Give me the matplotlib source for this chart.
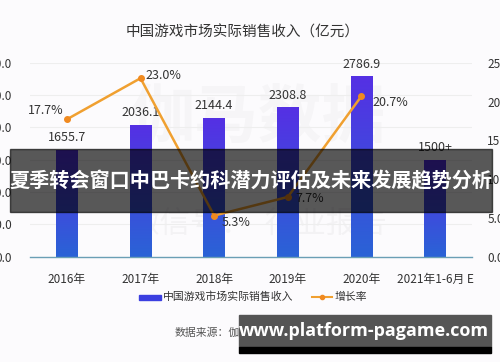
import numpy as np
import matplotlib
matplotlib.use("Agg")
import matplotlib.pyplot as plt
from matplotlib.patches import Rectangle
from matplotlib.colors import LinearSegmentedColormap
from matplotlib.lines import Line2D

plt.rcParams['font.family'] = ['Noto Sans CJK SC', 'DejaVu Sans']

years = ["2016年", "2017年", "2018年", "2019年", "2020年", "2021年1-6月 E"]
revenue = [1655.7, 2036.1, 2144.4, 2308.8, 2786.9, 1500]
revenue_labels = ["1655.7", "2036.1", "2144.4", "2308.8", "2786.9", "1500+"]
growth = [17.7, 23.0, 5.3, 7.7, 20.7]
growth_labels = ["17.7%", "23.0%", "5.3%", "7.7%", "20.7%"]
left_ticks = [0, 500, 1000, 1500, 2000, 2500, 3000]
right_ticks = [0, 5, 10, 15, 20, 25]

W, H = 500, 362
fig = plt.figure(figsize=(5, 3.62), dpi=100)
fig.patch.set_facecolor('#fcfbfd')

ax = fig.add_axes([30 / W, 1 - 256.7 / H, (472 - 30) / W, (256.7 - 62.7) / H])
ax.set_facecolor('none')
x = np.arange(len(years))

# faint background watermark
ax.text(2.6, 2150, "伽马数据", fontsize=46, color='#000000', alpha=0.025,
        ha='center', va='center', fontweight='bold', zorder=0)
ax.text(2.6, 500, "微信号：  行业报告", fontsize=22, color='#000000', alpha=0.035,
        ha='center', va='center', zorder=0)

bw = 0.29
bars = ax.bar(x, revenue, width=bw, color='none', zorder=2)
cmap = LinearSegmentedColormap.from_list('g', ['#2a63d6', '#5530e4'])
grad = np.linspace(0, 1, 256).reshape(-1, 1)
for b in bars:
    x0, y0 = b.get_x(), b.get_y()
    im = ax.imshow(grad, extent=[x0, x0 + b.get_width(), y0, y0 + b.get_height()],
                   origin='lower', aspect='auto', cmap=cmap, zorder=2)
    im.set_clip_path(b)

for xi, v, lab in zip(x, revenue, revenue_labels):
    ax.text(xi, v + 90, lab, ha='center', va='bottom', fontsize=9, color='#333333', zorder=5)

ax.set_xlim(-0.5, 5.5)
ax.set_ylim(0, 3000)
ax.set_yticks(left_ticks)
ax.set_yticklabels([f"{t:.1f}" for t in left_ticks])
ax.set_xticks(x)
ax.set_xticklabels(years)
ax.tick_params(axis='both', length=0, labelsize=8.5, labelcolor='#333333')
ax.tick_params(axis='y', pad=13)
ax.tick_params(axis='x', pad=12)
ax.grid(axis='y', color='#eeeeee', linewidth=0.8, zorder=0)
ax.set_axisbelow(True)
for s in ['top', 'right', 'left']:
    ax.spines[s].set_visible(False)
ax.spines['bottom'].set_color('#6a9fb5')
ax.spines['bottom'].set_linewidth(1.0)

ax2 = ax.twinx()
ax2.set_ylim(0, 25)
ax2.set_yticks(right_ticks)
ax2.set_yticklabels([f"{t:.1f}%" for t in right_ticks])
ax2.tick_params(axis='y', length=0, labelsize=8.5, labelcolor='#333333', pad=11)
for s in ax2.spines.values():
    s.set_visible(False)
gx = x[:len(growth)]
ax2.plot(gx, growth, color='#f0a030', linewidth=1.8, marker='o', markersize=4,
         markerfacecolor='#f08a20', markeredgecolor='#f08a20', zorder=4)
offsets = [(-0.25, 1.1, 'right'), (0.07, 0.4, 'left'), (0.1, -0.9, 'left'),
           (0.1, -0.2, 'left'), (0.15, -0.8, 'left')]
for xi, v, lab, (dx, dy, ha) in zip(gx, growth, growth_labels, offsets):
    ax2.text(xi + dx + (0.2 if ha == 'right' else 0), v + dy, lab, ha=ha, va='center',
             fontsize=9, color='#333333', zorder=5)

fig.text(243 / W, 1 - 33 / H, "中国游戏市场实际销售收入（亿元）", ha='center', va='center',
         fontsize=10.5, color='#333333')

# legend
fig.patches.append(Rectangle((139 / W, 1 - 299.5 / H), 22 / W, 5 / H,
                             transform=fig.transFigure, color='#3b3fe0'))
fig.text(163 / W, 1 - 297 / H, "中国游戏市场实际销售收入", ha='left', va='center',
         fontsize=7.8, color='#333333')
fig.lines.append(Line2D([312 / W, 332 / W], [1 - 297 / H] * 2, transform=fig.transFigure,
                        color='#f0a030', linewidth=1.5))
fig.lines.append(Line2D([322 / W], [1 - 297 / H], transform=fig.transFigure,
                        color='#f08a20', marker='o', markersize=3, linestyle='none'))
fig.text(335 / W, 1 - 297 / H, "增长率", ha='left', va='center', fontsize=7.8, color='#333333')

fig.text(175 / W, 1 - 333 / H, "数据来源：伽马数据（CNG）", ha='left', va='center',
         fontsize=7.8, color='#555555')

# overlay banner
fig.patches.append(Rectangle((10 / W, 1 - 212 / H), 482 / W, 63 / H,
                             transform=fig.transFigure, color='black', alpha=0.65, zorder=10))
fig.text(251 / W, 1 - 181 / H, "夏季转会窗口中巴卡约科潜力评估及未来发展趋势分析", ha='center',
         va='center', fontsize=14.5, color='white', fontweight='bold', zorder=11)

# bottom watermark box
fig.patches.append(Rectangle((239 / W, 1 - 347 / H), 252 / W, 32 / H,
                             transform=fig.transFigure, color='#555555', zorder=10))
fig.patches.append(Rectangle((239 / W, 1 - 353 / H), 252 / W, 6 / H,
                             transform=fig.transFigure, color='black', zorder=10))
fig.text(364 / W, 1 - 331 / H, "www.platform-pagame.com", ha='center', va='center',
         fontsize=13, color='white', fontweight='bold', family=['Open Sans', 'DejaVu Sans'],
         zorder=11)

fig.savefig("out.png", dpi=100, facecolor=fig.get_facecolor())
